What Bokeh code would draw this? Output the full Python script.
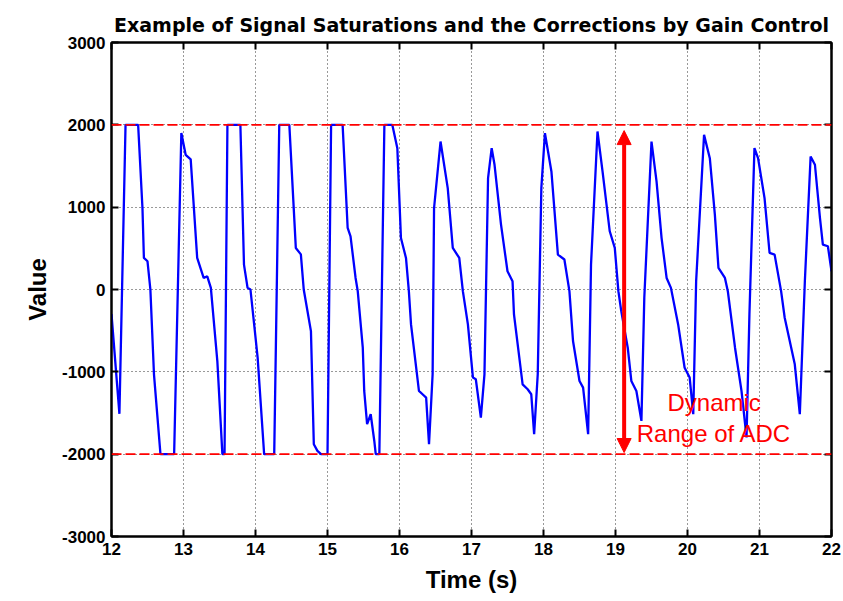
from bokeh.plotting import figure
from bokeh.models import (Range1d, LinearAxis, FixedTicker, Span, Arrow, NormalHead,
                          ColumnDataSource)
from bokeh.core.properties import value
from bokeh.embed import file_html
from bokeh.resources import INLINE

# ---- data ----
time_s = [12.00, 12.11, 12.195, 12.37, 12.43, 12.45, 12.50, 12.54, 12.59, 12.68, 12.87,
          12.97, 13.03, 13.10, 13.19, 13.28, 13.33, 13.38, 13.47, 13.54, 13.57, 13.61,
          13.79, 13.84, 13.89, 13.93, 14.03, 14.12, 14.26, 14.33, 14.47, 14.56, 14.63,
          14.67, 14.77, 14.81, 14.86, 14.91, 15.00, 15.05, 15.21, 15.28, 15.32, 15.39,
          15.42, 15.49, 15.51, 15.55, 15.60, 15.65, 15.67, 15.72, 15.79, 15.90, 15.97,
          16.02, 16.09, 16.13, 16.16, 16.27, 16.32, 16.37, 16.41, 16.46, 16.48, 16.57,
          16.67, 16.74, 16.83, 16.88, 16.95, 17.02, 17.06, 17.13, 17.18, 17.23, 17.28,
          17.32, 17.41, 17.50, 17.57, 17.59, 17.71, 17.78, 17.83, 17.87, 17.92, 17.97,
          18.02, 18.11, 18.20, 18.29, 18.36, 18.41, 18.50, 18.55, 18.62, 18.66, 18.75,
          18.82, 18.92, 18.99, 19.04, 19.08, 19.17, 19.22, 19.29, 19.36, 19.40, 19.50,
          19.57, 19.64, 19.71, 19.77, 19.87, 19.96, 20.03, 20.08, 20.12, 20.23, 20.31,
          20.38, 20.43, 20.52, 20.56, 20.66, 20.75, 20.82, 20.86, 20.93, 20.98, 21.07,
          21.14, 21.21, 21.30, 21.35, 21.49, 21.56, 21.63, 21.71, 21.77, 21.84, 21.88,
          21.95, 22.00]
signal = [-300, -1510, 2000, 2000, 990, 383, 343, 0, -1030, -2000, -2000,
          1900, 1636, 1580, 383, 140, 160, 20, -870, -2000, -2000, 2000,
          2000, 303, 20, 0, -830, -2000, -2000, 2000, 2000, 505, 427,
          0, -505, -1880, -1960, -2000, -2000, 2000, 2000, 747, 646, 140,
          -20, -707, -1232, -1635, -1515, -1840, -2000, -2000, 2000, 2000, 1716,
          625, 383, -20, -424, -1232, -1272, -1313, -1880, -1030, 990, 1797,
          1232, 505, 383, -20, -424, -1070, -1090, -1556, -1030, 1353, 1716,
          1515, 788, 222, 100, -303, -1152, -1212, -1272, -1757, -1030, 1232,
          1900, 1434, 424, 364, -20, -626, -1111, -1192, -1757, 303, 1919,
          1434, 707, 505, -20, -263, -707, -1111, -1232, -1596, -100, 1797,
          1313, 625, 140, 20, -424, -950, -1070, -1515, 100, 1878, 1595,
          909, 262, 140, -20, -707, -1232, -1797, -303, 1717, 1595, 1110,
          444, 424, -20, -343, -909, -1515, 100, 1616, 1515, 868, 545,
          525, 222]

adc_limits = [2000, -2000]
arrow_x = 19.12
arrow_y = [-1980, 1930]
note_lines = ["Dynamic", "Range of ADC"]
note_x = [20.37, 20.37]
note_y = [-1375, -1745]

x_ticks = list(range(12, 23))
y_ticks = [-3000, -2000, -1000, 0, 1000, 2000, 3000]
y_tick_labels = ["-3000", "-2000", "-1000", "0", "1000", "2000", "3000"]

TITLE = "Example of Signal Saturations and the Corrections by Gain Control"
FONT = "Liberation Sans"

p = figure(frame_width=720, frame_height=494, output_backend="svg", toolbar_location=None,
           x_range=Range1d(12, 22), y_range=Range1d(-3000, 3000),
           x_axis_label="Time (s)", y_axis_label="Value", title=TITLE)
p.min_border_left = 111
p.min_border_top = 42
p.min_border_right = 10
p.min_border_bottom = 62
p.background_fill_color = "white"
p.border_fill_color = "white"
p.outline_line_color = "black"
p.outline_line_width = 2

p.title.text_font = "DejaVu Sans"
p.title.text_font_size = "19px"
p.title.text_font_style = "bold"
p.title.align = "center"
p.title.vertical_align = "top"
p.title.text_color = "black"

# extra axes on top and right for inward ticks (box style)
top_axis = LinearAxis()
right_axis = LinearAxis()
p.add_layout(top_axis, "above")
p.add_layout(right_axis, "right")

for ax in p.xaxis:
    ax.ticker = FixedTicker(ticks=x_ticks)
for ax in p.yaxis:
    ax.ticker = FixedTicker(ticks=y_ticks)
    ax.major_label_overrides = {t: l for t, l in zip(y_ticks, y_tick_labels)}

for ax in p.axis:
    ax.major_tick_in = 7
    ax.major_tick_out = 0
    ax.minor_tick_line_color = None
    ax.axis_line_width = 2
    ax.axis_line_color = "black"
    ax.major_tick_line_width = 2
    ax.major_tick_line_color = "black"
    ax.major_label_text_font = FONT
    ax.major_label_text_font_size = "17px"
    ax.major_label_text_font_style = "bold"
    ax.major_label_text_color = "black"
    ax.axis_label_text_font = FONT
    ax.axis_label_text_font_size = "24px"
    ax.axis_label_text_font_style = "bold"
    ax.axis_label_text_color = "black"

for ax in (top_axis, right_axis):
    ax.major_label_text_font_size = "1px"
    ax.major_label_text_color = None
    ax.major_label_standoff = 0

bottom_axis = p.below[0]
left_axis = p.left[0]
bottom_axis.major_label_standoff = 6
bottom_axis.axis_label_standoff = 8
left_axis.major_label_standoff = 6
left_axis.axis_label_standoff = 8

p.xgrid.ticker = FixedTicker(ticks=x_ticks)
p.ygrid.ticker = FixedTicker(ticks=y_ticks)
for g in (p.xgrid[0], p.ygrid[0]):
    g.grid_line_color = "#333333"
    g.grid_line_dash = "1 3"
    g.grid_line_width = 1
    g.grid_line_alpha = 1

src = ColumnDataSource(dict(t=time_s, v=signal))
p.line("t", "v", source=src, line_color="#0000FF", line_width=2.3)

for lim in adc_limits:
    p.add_layout(Span(location=lim, dimension="width", line_color="#FF0000",
                      line_dash="10 4", line_width=1.6))

head_a = NormalHead(size=14, fill_color="#FF0000", line_color="#FF0000")
head_b = NormalHead(size=14, fill_color="#FF0000", line_color="#FF0000")
p.add_layout(Arrow(start=head_a, end=head_b, x_start=arrow_x, y_start=arrow_y[0],
                   x_end=arrow_x, y_end=arrow_y[1], line_color="#FF0000", line_width=4))

p.text(x=note_x, y=note_y, text=note_lines, text_font=value(FONT), text_font_size="24px",
       text_color="#FF0000", text_align="center", text_baseline="middle")

open("out.html", "w").write(file_html(p, INLINE))
